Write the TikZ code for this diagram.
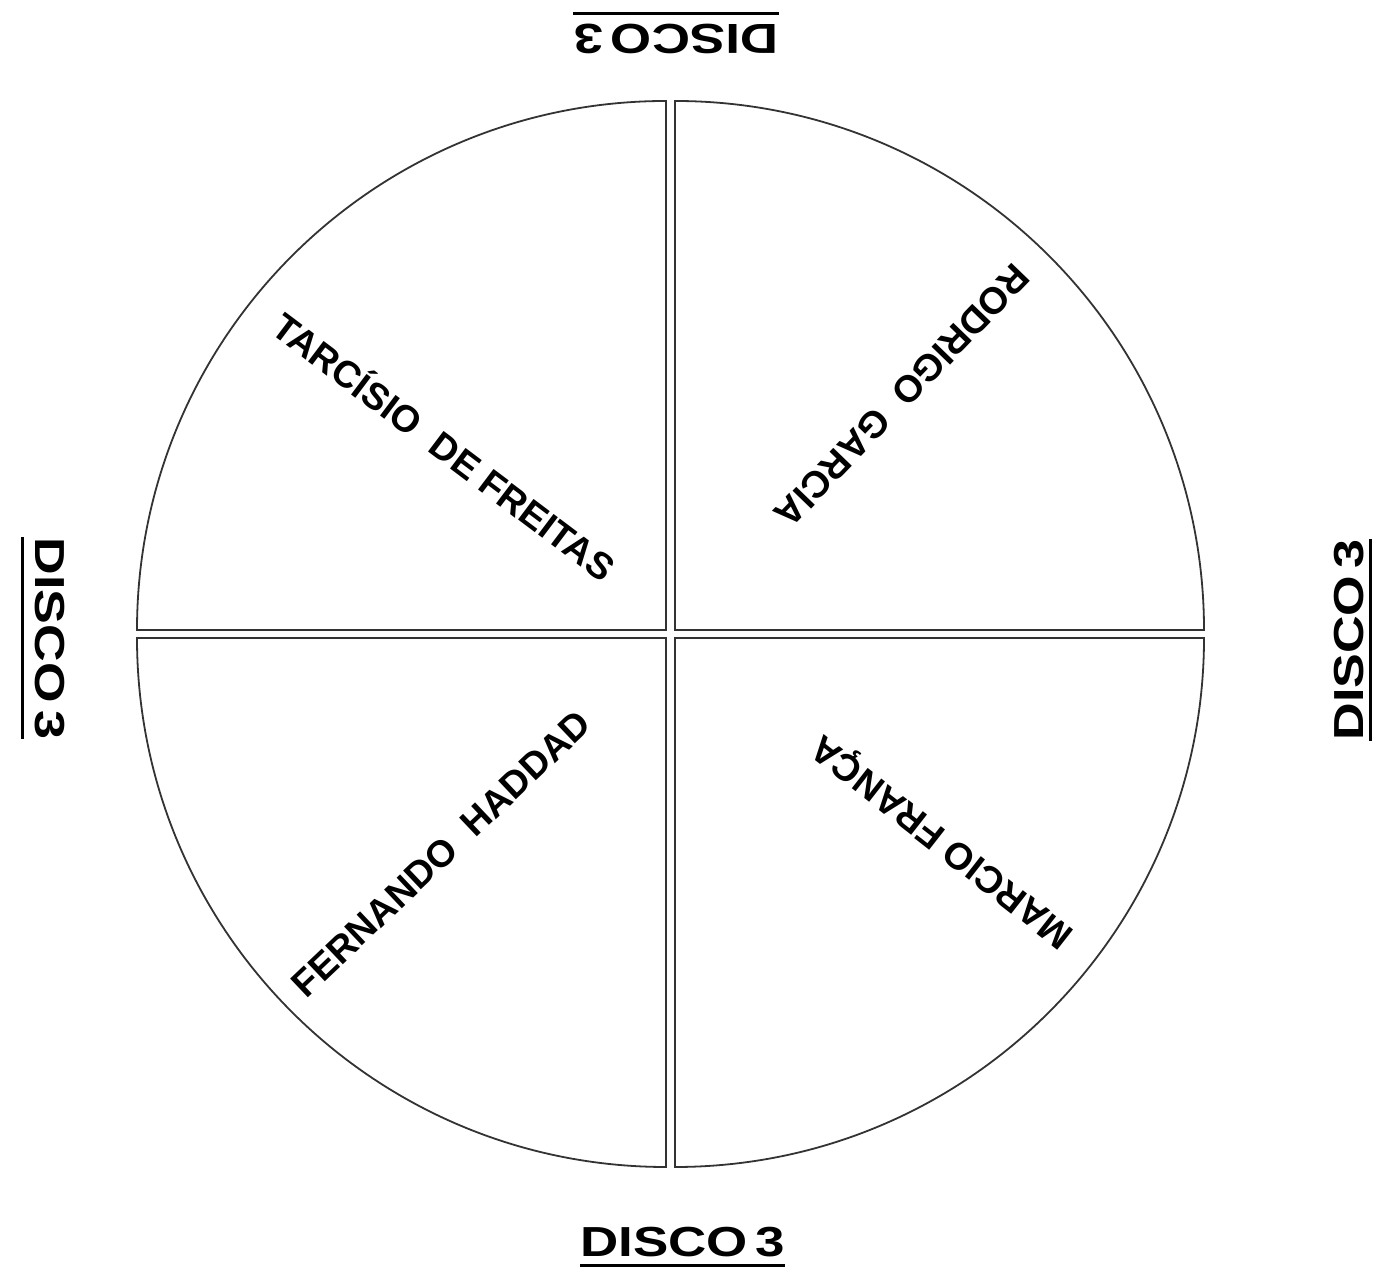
\documentclass[tikz,border=0pt]{standalone}
\usepackage{fontspec}
\setmainfont{Liberation Sans}
\begin{document}
\begin{tikzpicture}[x=0.5pt,y=0.5pt,
  sector/.style={draw=black!80,line width=0.9pt,fill=white},
  namelbl/.style={font=\fontsize{18.75}{20}\selectfont\bfseries,inner sep=0pt,text height=0.716em,text depth=0pt,anchor=center},
  discolbl/.style={font=\fontsize{21}{24}\selectfont\bfseries,inner xsep=0pt,inner ysep=4.25pt,text height=0.716em,text depth=0pt,anchor=center},
  underl/.style={line width=1.5pt,black}]
\useasboundingbox (0,0) rectangle (1384,1277);
% four quarter sectors
\draw[sector] (666,647) -- (137,647) arc (180:90:529) -- cycle;
\draw[sector] (675,647) -- (675,1176) arc (90:0:529) -- cycle;
\draw[sector] (666,639) -- (137,639) arc (180:270:529) -- cycle;
\draw[sector] (675,639) -- (1204,639) arc (0:-90:529) -- cycle;
% names
\node[namelbl,rotate=-37] (tf) at (440,825) {TARCÍSIO\ \ DE FREITAS};
\node[namelbl,rotate=-134] (rg) at (898,885) {RODRIGO\ \ GARCIA};
\node[namelbl,rotate=43.5] (fh) at (445,419) {FERNANDO\ \ HADDAD};
\node[namelbl,rotate=142] (mf) at (945,439) {MARCIO FRANÇA};
% DISCO 3 labels
\node[discolbl] (db) at (682.5,27.5) {\scalebox{1.26}[1]{DISCO\hspace{0.14em}3}};
\node[discolbl,rotate=180,inner ysep=5.5pt] (dt) at (676,1245) {\scalebox{1.26}[1]{DISCO\hspace{0.14em}3}};
\node[discolbl,rotate=-90,inner ysep=6.5pt] (dl) at (43,638.5) {\scalebox{1.24}[1]{DISCO\hspace{0.14em}3}};
\node[discolbl,rotate=90,inner ysep=3.5pt] (dr) at (1356,637) {\scalebox{1.24}[1]{DISCO\hspace{0.14em}3}};
\draw[underl] (db.south west) -- (db.south east);
\draw[underl] (dt.south west) -- (dt.south east);
\draw[underl] (dl.south west) -- (dl.south east);
\draw[underl] (dr.south west) -- (dr.south east);
\end{tikzpicture}
\end{document}
